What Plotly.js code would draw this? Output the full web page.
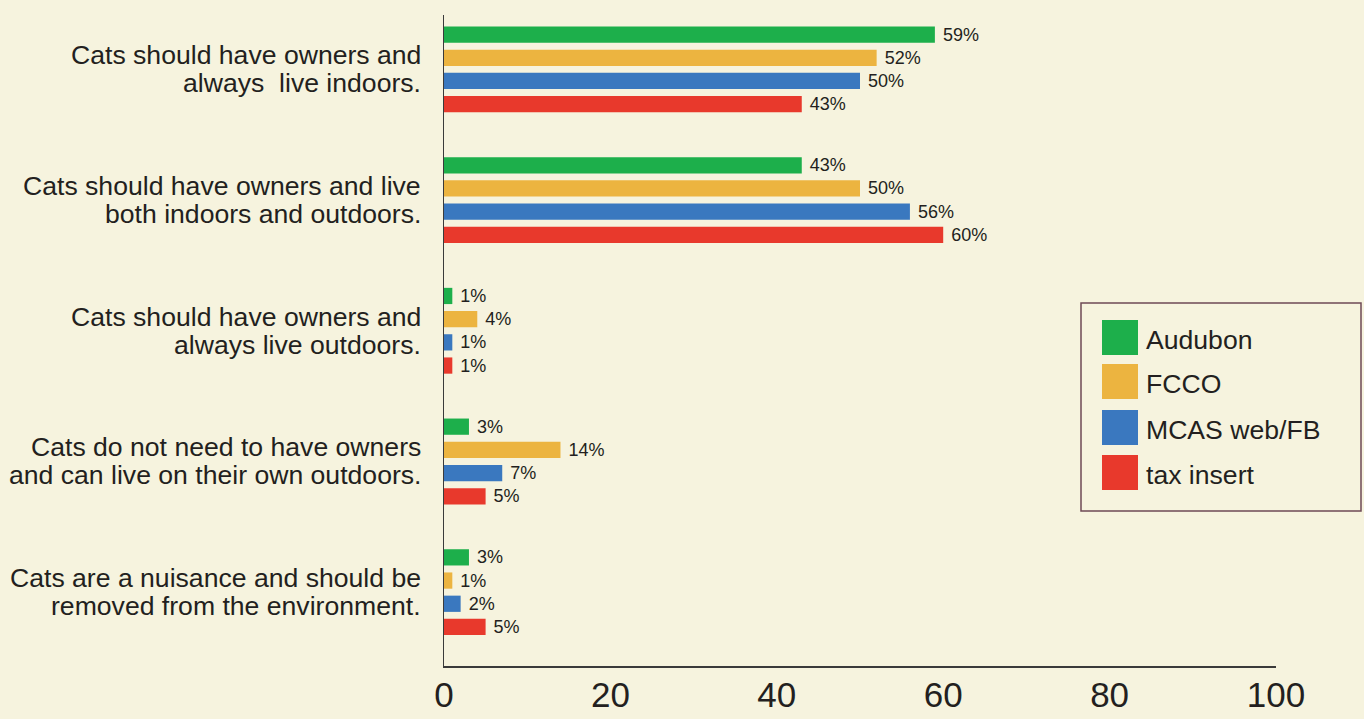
<!DOCTYPE html>
<html>
<head>
<meta charset="utf-8">
<script src="https://cdn.plot.ly/plotly-3.0.1.min.js"></script>
<style>html,body{margin:0;padding:0;background:#f6f3de;}#chart{width:1364px;height:719px;}</style>
</head>
<body>
<div id="chart"></div>
<script>
const categories = [
  "Cats should have owners and<br>always  live indoors.",
  "Cats should have owners and live<br>both indoors and outdoors.",
  "Cats should have owners and<br>always live outdoors.",
  "Cats do not need to have owners<br>and can live on their own outdoors.",
  "Cats are a nuisance and should be<br>removed from the environment."
];
const seriesNames = ["Audubon", "FCCO", "MCAS web/FB", "tax insert"];
const audubon = [59, 43, 1, 3, 3];
const fcco = [52, 50, 4, 14, 1];
const mcas = [50, 56, 1, 7, 2];
const taxInsert = [43, 60, 1, 5, 5];
const xTicks = [0, 20, 40, 60, 80, 100];
const colors = ["#1daf4b", "#ecb440", "#3a78bf", "#e8392c"];
const seriesValues = [audubon, fcco, mcas, taxInsert];

const FONT = '"Liberation Sans", Arial, Helvetica, sans-serif';
const TXT = '#231f20';

const traces = seriesValues.map((vals, i) => ({
  type: 'bar',
  orientation: 'h',
  name: seriesNames[i],
  y: categories,
  x: vals,
  marker: {color: colors[i], line: {width: 0}},
  texttemplate: ' %{x}%',
  textposition: 'outside',
  constraintext: 'none',
  cliponaxis: false,
  textfont: {family: FONT, size: 18, color: TXT},
  hoverinfo: 'skip',
  showlegend: false
}));

// plot area in pixels
const L = 444, R = 1276, T = 15, B = 666;
const px = x => (x - L) / (R - L);
const py = y => (B - y) / (B - T);

const shapes = [{
  type: 'rect', xref: 'paper', yref: 'paper',
  x0: px(1081), x1: px(1361), y0: py(511), y1: py(303),
  line: {color: '#6e4a55', width: 1.5}, fillcolor: 'rgba(0,0,0,0)'
}];
const annotations = [];
const swTop = [320, 364, 410, 455];
seriesNames.forEach((n, i) => {
  shapes.push({
    type: 'rect', xref: 'paper', yref: 'paper',
    x0: px(1102), x1: px(1138), y0: py(swTop[i] + 35), y1: py(swTop[i]),
    line: {width: 0}, fillcolor: colors[i]
  });
  annotations.push({
    xref: 'paper', yref: 'paper', x: px(1144), y: py(swTop[i] + 20),
    xanchor: 'left', yanchor: 'middle', showarrow: false,
    text: n, font: {family: FONT, size: 26.6, color: TXT}
  });
});

// category labels, one annotation per line for tight line spacing
categories.forEach(c => {
  const lines = c.split('<br>');
  lines.forEach((ln, j) => {
    annotations.push({
      xref: 'paper', yref: 'y', x: px(423), y: c,
      xanchor: 'right', yanchor: 'middle', showarrow: false,
      yshift: (j === 0 ? 14 : -14),
      text: ln, font: {family: FONT, size: 26.6, color: TXT}
    });
  });
});

const layout = {
  width: 1364, height: 719,
  margin: {l: L, r: 1364 - R, t: T, b: 719 - B, pad: 0},
  paper_bgcolor: '#f6f3de',
  plot_bgcolor: '#f6f3de',
  barmode: 'group',
  bargap: 0.29,
  bargroupgap: 0.3,
  showlegend: false,
  xaxis: {
    range: [0, 100],
    tickvals: xTicks,
    ticktext: xTicks.map(String),
    showgrid: false, zeroline: false,
    showline: true, linecolor: '#3a3a3a', linewidth: 1.5,
    ticks: '', ticklabelstandoff: -3,
    tickfont: {family: FONT, size: 35, color: TXT}
  },
  yaxis: {
    type: 'category',
    range: [4.565, -0.416],
    showgrid: false, zeroline: false,
    showline: true, linecolor: '#3a3a3a', linewidth: 1.5,
    ticks: '', showticklabels: false
  },
  shapes: shapes,
  annotations: annotations,
  font: {family: FONT, color: TXT}
};

Plotly.newPlot('chart', traces, layout, {displayModeBar: false, staticPlot: true});
</script>
</body>
</html>
